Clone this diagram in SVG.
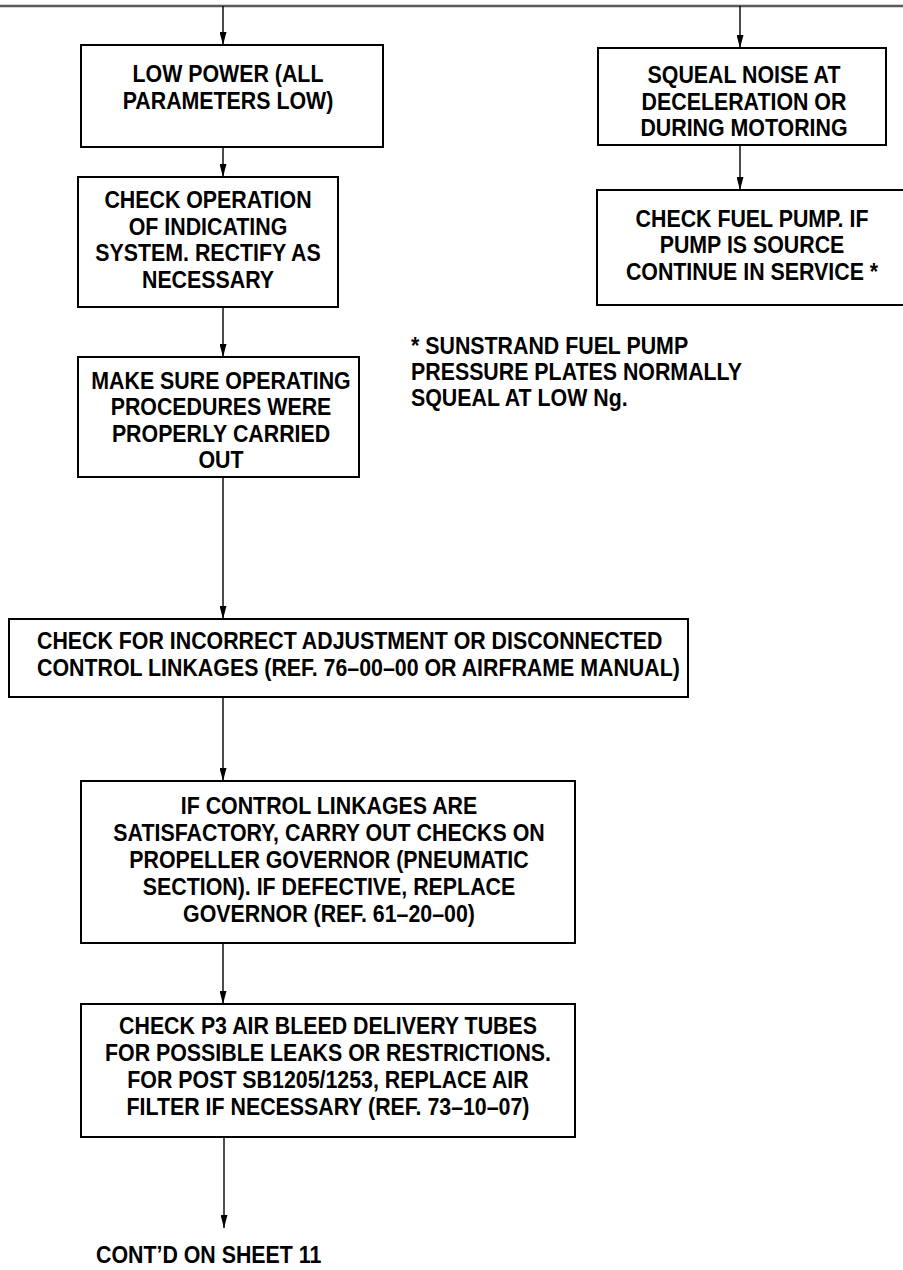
<svg xmlns="http://www.w3.org/2000/svg" width="903" height="1270" viewBox="0 0 903 1270">
  <defs>
    <marker id="arrow" markerUnits="userSpaceOnUse" viewBox="0 0 13 7" markerWidth="13" markerHeight="7" refX="13" refY="3.5" orient="auto">
      <path d="M0,0 L13,3.5 L0,7 z" fill="#000"/>
    </marker>
    <style>
      .box{fill:#fff;stroke:#000;stroke-width:2}
      .lbl{font-family:"Liberation Sans",Arial,Helvetica,sans-serif;font-weight:bold;font-size:24px;fill:#000}
      .c{text-anchor:middle}
      .wire{stroke:#000;stroke-width:1.4;fill:none;marker-end:url(#arrow)}
      .rule{stroke:#5a5a5a;stroke-width:2.5;fill:none}
    </style>
  </defs>

  <rect width="903" height="1270" fill="#fff"/>

  <!-- top rule of the sheet -->
  <line class="rule" x1="0" y1="6" x2="903" y2="6"/>

  <!-- connectors -->
  <g id="connectors">
    <line class="wire" x1="223" y1="6" x2="223" y2="45"/>
    <line class="wire" x1="223" y1="147" x2="223" y2="177"/>
    <line class="wire" x1="223" y1="307" x2="223" y2="357"/>
    <line class="wire" x1="223" y1="477" x2="223" y2="619"/>
    <line class="wire" x1="223" y1="697" x2="223" y2="781"/>
    <line class="wire" x1="223" y1="943" x2="223" y2="1004"/>
    <line class="wire" x1="224" y1="1137" x2="224" y2="1228"/>
    <line class="wire" x1="740" y1="6" x2="740" y2="48"/>
    <line class="wire" x1="740" y1="145" x2="740" y2="190"/>
  </g>

  <g id="low-power">
    <rect class="box" x="81" y="45" width="302" height="102"/>
    <g transform="translate(228 0) scale(0.89 1)">
      <text class="lbl c"><tspan x="0" y="82">LOW POWER (ALL</tspan><tspan x="0" y="109">PARAMETERS LOW)</tspan></text>
    </g>
  </g>

  <g id="check-indicating">
    <rect class="box" x="78" y="177" width="260" height="130"/>
    <g transform="translate(208 0) scale(0.89 1)">
      <text class="lbl c"><tspan x="0" y="208">CHECK OPERATION</tspan><tspan x="0" y="235">OF INDICATING</tspan><tspan x="0" y="261.5">SYSTEM. RECTIFY AS</tspan><tspan x="0" y="288">NECESSARY</tspan></text>
    </g>
  </g>

  <g id="operating-procedures">
    <rect class="box" x="78" y="357" width="281" height="120"/>
    <g transform="translate(221 0) scale(0.89 1)">
      <text class="lbl c"><tspan x="0" y="389">MAKE SURE OPERATING</tspan><tspan x="0" y="415.5">PROCEDURES WERE</tspan><tspan x="0" y="442">PROPERLY CARRIED</tspan><tspan x="0" y="468.5">OUT</tspan></text>
    </g>
  </g>

  <g id="control-linkages">
    <rect class="box" x="9" y="619" width="679" height="78"/>
    <g transform="translate(37 0) scale(0.89 1)">
      <text class="lbl"><tspan x="0" y="649.5">CHECK FOR INCORRECT ADJUSTMENT OR DISCONNECTED</tspan><tspan x="0" y="676.5">CONTROL LINKAGES (REF. 76–00–00 OR AIRFRAME MANUAL)</tspan></text>
    </g>
  </g>

  <g id="propeller-governor">
    <rect class="box" x="81" y="781" width="494" height="162"/>
    <g transform="translate(329 0) scale(0.89 1)">
      <text class="lbl c"><tspan x="0" y="814">IF CONTROL LINKAGES ARE</tspan><tspan x="0" y="841">SATISFACTORY, CARRY OUT CHECKS ON</tspan><tspan x="0" y="868">PROPELLER GOVERNOR (PNEUMATIC</tspan><tspan x="0" y="895">SECTION). IF DEFECTIVE, REPLACE</tspan><tspan x="0" y="922">GOVERNOR (REF. 61–20–00)</tspan></text>
    </g>
  </g>

  <g id="p3-bleed">
    <rect class="box" x="81" y="1004" width="494" height="133"/>
    <g transform="translate(328 0) scale(0.89 1)">
      <text class="lbl c"><tspan x="0" y="1034">CHECK P3 AIR BLEED DELIVERY TUBES</tspan><tspan x="0" y="1061">FOR POSSIBLE LEAKS OR RESTRICTIONS.</tspan><tspan x="0" y="1088">FOR POST SB1205/1253, REPLACE AIR</tspan><tspan x="0" y="1115">FILTER IF NECESSARY (REF. 73–10–07)</tspan></text>
    </g>
  </g>

  <g id="continued">
    <g transform="translate(96 0) scale(0.89 1)">
      <text class="lbl"><tspan x="0" y="1263">CONT’D ON SHEET 11</tspan></text>
    </g>
  </g>

  <g id="squeal-noise">
    <rect class="box" x="598" y="48" width="288" height="97"/>
    <g transform="translate(744 0) scale(0.89 1)">
      <text class="lbl c"><tspan x="0" y="83">SQUEAL NOISE AT</tspan><tspan x="0" y="110">DECELERATION OR</tspan><tspan x="0" y="136.5">DURING MOTORING</tspan></text>
    </g>
  </g>

  <g id="check-fuel-pump">
    <rect class="box" x="597" y="190" width="312" height="115"/>
    <g transform="translate(752 0) scale(0.89 1)">
      <text class="lbl c"><tspan x="0" y="227">CHECK FUEL PUMP. IF</tspan><tspan x="0" y="253.5">PUMP IS SOURCE</tspan><tspan x="0" y="280">CONTINUE IN SERVICE *</tspan></text>
    </g>
  </g>

  <g id="pump-note">
    <g transform="translate(411 0) scale(0.89 1)">
      <text class="lbl"><tspan x="0" y="354">* SUNSTRAND FUEL PUMP</tspan><tspan x="0" y="380">PRESSURE PLATES NORMALLY</tspan><tspan x="0" y="406">SQUEAL AT LOW Ng.</tspan></text>
    </g>
  </g>
</svg>
